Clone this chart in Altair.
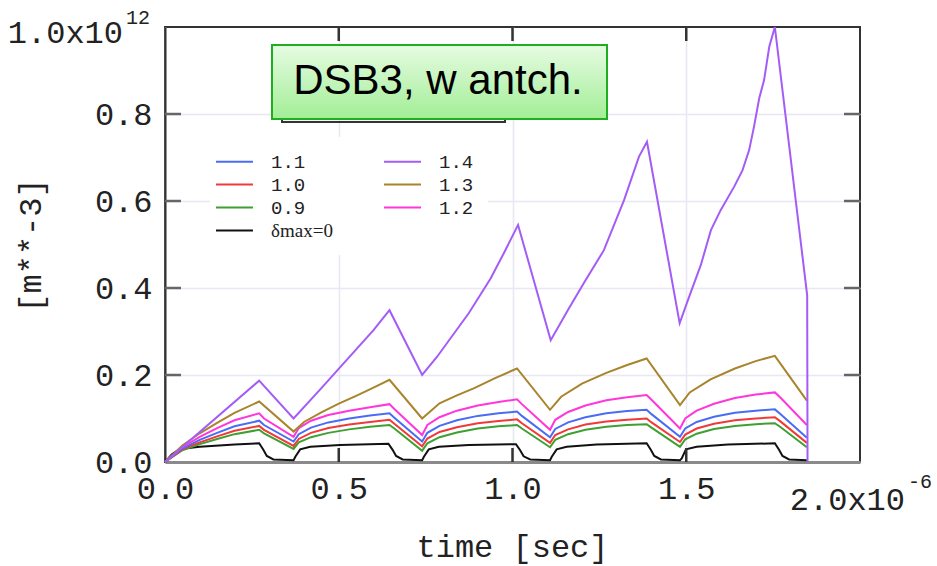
import altair as alt
import pandas as pd

# time in units of 1e-6 s, density in units of 1e12 m**-3
t_14 = [0.000, 0.271, 0.370, 0.450, 0.600, 0.646, 0.740, 0.783, 0.874, 0.937, 0.975, 1.016,
        1.110, 1.160, 1.205, 1.263, 1.321, 1.364, 1.387, 1.481, 1.503, 1.542, 1.571, 1.599,
        1.638, 1.662, 1.681, 1.695, 1.710, 1.724, 1.739, 1.755, 1.848, 1.849]
v_14 = [0.000, 0.187, 0.100, 0.170, 0.303, 0.349, 0.200, 0.242, 0.342, 0.422, 0.480, 0.545,
        0.280, 0.350, 0.411, 0.487, 0.602, 0.702, 0.736, 0.319, 0.368, 0.453, 0.533, 0.579,
        0.633, 0.671, 0.717, 0.771, 0.836, 0.878, 0.955, 1.000, 0.383, 0.000]

t_13 = [0.000, 0.050, 0.100, 0.150, 0.200, 0.271, 0.370, 0.400, 0.450, 0.500, 0.550, 0.600,
        0.646, 0.740, 0.790, 0.840, 0.890, 0.950, 1.013, 1.108, 1.140, 1.200, 1.270, 1.330,
        1.386, 1.482, 1.510, 1.570, 1.640, 1.700, 1.755, 1.847]
v_13 = [0.000, 0.038, 0.066, 0.090, 0.113, 0.139, 0.070, 0.092, 0.114, 0.134, 0.152, 0.171,
        0.189, 0.100, 0.135, 0.153, 0.170, 0.193, 0.215, 0.120, 0.150, 0.180, 0.205, 0.223,
        0.238, 0.131, 0.160, 0.190, 0.215, 0.232, 0.244, 0.141]

t_12 = [0.000, 0.050, 0.100, 0.150, 0.200, 0.271, 0.285, 0.370, 0.385, 0.420, 0.470, 0.530,
        0.590, 0.646, 0.660, 0.740, 0.755, 0.790, 0.840, 0.900, 0.960, 1.013, 1.027, 1.108,
        1.123, 1.160, 1.210, 1.270, 1.330, 1.386, 1.400, 1.482, 1.497, 1.530, 1.580, 1.640,
        1.700, 1.755, 1.770, 1.847]
v_12 = [0.000, 0.034, 0.058, 0.078, 0.096, 0.112, 0.100, 0.058, 0.078, 0.095, 0.108, 0.118,
        0.126, 0.133, 0.122, 0.062, 0.085, 0.103, 0.118, 0.130, 0.138, 0.144, 0.133, 0.074,
        0.097, 0.115, 0.130, 0.142, 0.149, 0.154, 0.143, 0.077, 0.100, 0.118, 0.134, 0.147,
        0.155, 0.160, 0.149, 0.085]

t_11 = t_12
v_11 = [0.000, 0.031, 0.051, 0.067, 0.082, 0.095, 0.085, 0.047, 0.064, 0.079, 0.091, 0.100,
        0.107, 0.112, 0.102, 0.047, 0.067, 0.083, 0.096, 0.106, 0.112, 0.116, 0.106, 0.057,
        0.076, 0.091, 0.103, 0.112, 0.117, 0.120, 0.110, 0.058, 0.077, 0.092, 0.104, 0.113,
        0.118, 0.121, 0.111, 0.056]

t_10 = t_12
v_10 = [0.000, 0.029, 0.045, 0.059, 0.072, 0.083, 0.074, 0.037, 0.053, 0.067, 0.078, 0.086,
        0.092, 0.097, 0.088, 0.036, 0.054, 0.069, 0.080, 0.089, 0.094, 0.098, 0.089, 0.044,
        0.062, 0.075, 0.086, 0.093, 0.097, 0.100, 0.091, 0.046, 0.063, 0.077, 0.088, 0.096,
        0.100, 0.103, 0.094, 0.044]

t_09 = t_12
v_09 = [0.000, 0.027, 0.041, 0.053, 0.064, 0.074, 0.066, 0.030, 0.045, 0.057, 0.067, 0.075,
        0.081, 0.085, 0.077, 0.026, 0.043, 0.057, 0.068, 0.077, 0.082, 0.085, 0.077, 0.034,
        0.051, 0.064, 0.074, 0.081, 0.085, 0.087, 0.079, 0.035, 0.052, 0.065, 0.076, 0.083,
        0.087, 0.089, 0.081, 0.034]

t_00 = [0.000, 0.020, 0.043, 0.100, 0.200, 0.271, 0.283, 0.293, 0.312, 0.370, 0.375, 0.389,
        0.418, 0.504, 0.643, 0.655, 0.665, 0.684, 0.740, 0.745, 0.759, 0.788, 0.874, 1.010,
        1.022, 1.032, 1.051, 1.108, 1.113, 1.127, 1.156, 1.242, 1.386, 1.398, 1.408, 1.427,
        1.482, 1.487, 1.499, 1.530, 1.620, 1.755, 1.767, 1.777, 1.796, 1.847]
v_00 = [0.000, 0.018, 0.030, 0.035, 0.040, 0.043, 0.028, 0.014, 0.006, 0.004, 0.012, 0.029,
        0.035, 0.039, 0.042, 0.028, 0.014, 0.006, 0.004, 0.012, 0.029, 0.035, 0.039, 0.041,
        0.027, 0.013, 0.006, 0.004, 0.012, 0.029, 0.035, 0.040, 0.043, 0.028, 0.014, 0.006,
        0.004, 0.008, 0.029, 0.035, 0.040, 0.043, 0.028, 0.014, 0.006, 0.004]

series = [("δmax=0", t_00, v_00), ("0.9", t_09, v_09), ("1.0", t_10, v_10),
          ("1.1", t_11, v_11), ("1.2", t_12, v_12), ("1.3", t_13, v_13), ("1.4", t_14, v_14)]

legend_order = ["1.1", "1.0", "0.9", "δmax=0", "1.4", "1.3", "1.2"]
legend_colors = ["#4a6cf5", "#f03a3a", "#3fa032", "#111111", "#a45cf7", "#a8842c", "#ff36dc"]

x_tick_values = [0.5, 1.0, 1.5]
y_tick_values = [0.2, 0.4, 0.6, 0.8]
x_label_values = [0.0, 0.5, 1.0, 1.5]
y_label_values = [0.0, 0.2, 0.4, 0.6, 0.8]

rows = []
for name, ts, vs in series:
    for i, (t, v) in enumerate(zip(ts, vs)):
        rows.append({"series": name, "t": t, "v": v, "i": i})
df = pd.DataFrame(rows)

MONO = "Liberation Mono"
W, H = 695, 435

x_scale = alt.Scale(domain=[0, 2.0], nice=False, zero=False)
y_scale = alt.Scale(domain=[0, 1.0], nice=False, zero=False)

x_axis = alt.Axis(values=x_label_values, format=".1f", labelFont=MONO, labelFontSize=32,
                  labelColor="#222", labelPadding=26, labelBaseline="middle", labelFlush=False,
                  ticks=False, tickSize=0, grid=True, gridColor="#e8e8f4", gridWidth=1.5,
                  domainColor="#8a8a8a", domainWidth=3,
                  title="time [sec]", titleFont=MONO, titleFontSize=32, titleFontWeight="normal",
                  titleColor="#222", titleX=347, titleY=84, titleBaseline="middle", titleAlign="center")
y_axis = alt.Axis(values=y_label_values, format=".1f", labelFont=MONO, labelFontSize=32,
                  labelColor="#222", labelPadding=13, labelFlush=False,
                  ticks=False, tickSize=0, grid=True, gridColor="#e8e8f4", gridWidth=1.5,
                  domainColor="#333", domainWidth=2,
                  title="[m**-3]", titleFont=MONO, titleFontSize=32, titleFontWeight="normal",
                  titleColor="#222", titleX=-135, titleY=218, titleAngle=270,
                  titleBaseline="middle", titleAlign="center")

lines = alt.Chart(df).mark_line(strokeWidth=2).encode(
    x=alt.X("t:Q", scale=x_scale, axis=x_axis),
    y=alt.Y("v:Q", scale=y_scale, axis=y_axis),
    color=alt.Color("series:N", scale=alt.Scale(domain=legend_order, range=legend_colors),
                    legend=alt.Legend(title=None, orient="none", legendX=45, legendY=110,
                                      columns=2, direction="vertical", symbolType="M-2,0H2",
                                      symbolSize=342, symbolStrokeWidth=2,
                                      labelFont=alt.ExprRef(expr="datum.label == 'δmax=0' ? 'Liberation Serif' : 'Liberation Mono'"),
                                      labelFontSize=19, labelColor="#222", labelOffset=26,
                                      rowPadding=2, columnPadding=47, padding=14,
                                      fillColor="white")),
    order="i:Q",
)

xt = pd.DataFrame({"t": x_tick_values})
yt = pd.DataFrame({"v": y_tick_values})
tick_style = dict(color="#333", strokeWidth=2.5)
bottom_ticks = alt.Chart(xt).mark_rule(**tick_style).encode(
    x=alt.X("t:Q", scale=x_scale), y=alt.value(H), y2=alt.value(H - 14))
top_ticks = alt.Chart(xt).mark_rule(**tick_style).encode(
    x=alt.X("t:Q", scale=x_scale), y=alt.value(0), y2=alt.value(14))
left_ticks = alt.Chart(yt).mark_rule(color="#666", strokeWidth=2.5).encode(
    y=alt.Y("v:Q", scale=y_scale), x=alt.value(0), x2=alt.value(16))
right_ticks = alt.Chart(yt).mark_rule(color="#666", strokeWidth=2.5).encode(
    y=alt.Y("v:Q", scale=y_scale), x=alt.value(W), x2=alt.value(W - 16))

one = pd.DataFrame({"a": [0]})
y_top_label = alt.Chart(one).mark_text(text="1.0x10", font=MONO, fontSize=32, align="right",
                                       baseline="middle", dx=-42, dy=6, color="#222").encode(
    x=alt.datum(0), y=alt.datum(1.0))
y_top_sup = alt.Chart(one).mark_text(text="12", font=MONO, fontSize=20, align="left",
                                     baseline="middle", dx=-39, dy=-9, color="#222").encode(
    x=alt.datum(0), y=alt.datum(1.0))
x_end_label = alt.Chart(one).mark_text(text="2.0x10", font=MONO, fontSize=32, align="right",
                                       baseline="middle", dx=45, dy=38, color="#222").encode(
    x=alt.datum(2.0), y=alt.datum(0))
x_end_sup = alt.Chart(one).mark_text(text="-6", font=MONO, fontSize=20, align="left",
                                     baseline="middle", dx=48, dy=20, color="#222").encode(
    x=alt.datum(2.0), y=alt.datum(0))

dark_box = alt.Chart(one).mark_rect(filled=False, stroke="#333", strokeWidth=2).encode(
    x=alt.value(117), x2=alt.value(340), y=alt.value(60), y2=alt.value(95))
gradient = alt.LinearGradient(gradient="linear",
                              stops=[alt.GradientStop(color="#e6fbe2", offset=0),
                                     alt.GradientStop(color="#a2ee96", offset=1)],
                              x1=0, x2=0, y1=0, y2=1)
green_box = alt.Chart(one).mark_rect(fill=gradient, stroke="#1fae1f", strokeWidth=2).encode(
    x=alt.value(107), x2=alt.value(442), y=alt.value(18), y2=alt.value(92))
box_text = alt.Chart(one).mark_text(text="DSB3, w antch.", font="Liberation Sans", fontSize=42,
                                    align="center", baseline="middle", color="#000").encode(
    x=alt.value(273), y=alt.value(54))

chart = alt.layer(
    lines, bottom_ticks, top_ticks, left_ticks, right_ticks,
    y_top_label, y_top_sup, x_end_label, x_end_sup,
    dark_box, green_box, box_text,
).properties(
    width=W, height=H,
    autosize=alt.AutoSizeParams(type="none"),
    padding={"left": 165, "top": 27, "right": 77, "bottom": 104},
    background="white",
).configure_view(stroke="#333", strokeWidth=2)

chart.save("out.html", embed_options={"renderer": "svg", "actions": False})
